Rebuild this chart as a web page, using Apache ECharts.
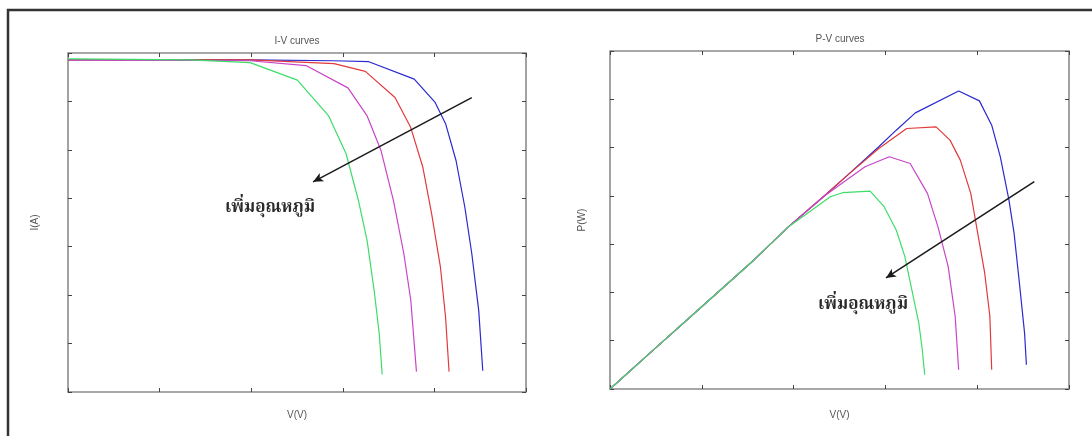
<!DOCTYPE html>
<html>
<head>
<meta charset="utf-8">
<title>I-V / P-V curves</title>
<script src="https://cdn.jsdelivr.net/npm/echarts@6/dist/echarts.min.js"></script>
<style>
  html, body { margin: 0; padding: 0; background: #ffffff; }
  #chart { width: 1092px; height: 436px; }
</style>
</head>
<body>
<div id="chart"></div>
<script>
// Axis ranges (no tick labels are printed, only tick marks)
const vRange = [0, 25, 5];     // V(V): min, max, tick step
const iRange = [0, 3.5, 0.5];  // I(A)
const pRange = [0, 70, 10];    // P(W)

// Panel titles and axis names
const titles = ['I-V curves', 'P-V curves'];
const xName = 'V(V)';
const yNames = ['I(A)', 'P(W)'];
const noteText = 'เพิ่มอุณหภูมิ';

// I-V curves, [V, I], one per temperature (blue = coolest, green = hottest)
const ivBlue = [[0, 3.43], [9.94, 3.43], [14.5, 3.42], [16.42, 3.41], [18.90, 3.23], [20.04, 2.99], [20.61, 2.77],
  [21.18, 2.39], [21.66, 1.91], [22.04, 1.43], [22.42, 0.84], [22.64, 0.22]];
const ivRed = [[0, 3.43], [9.94, 3.43], [14.52, 3.39], [16.23, 3.31], [17.85, 3.04], [18.71, 2.73], [19.37, 2.32],
  [19.85, 1.84], [20.33, 1.29], [20.61, 0.77], [20.80, 0.21]];
const ivMagenta = [[0, 3.43], [9.94, 3.42], [12.99, 3.37], [15.28, 3.14], [16.33, 2.85], [17.09, 2.49], [17.76, 1.98],
  [18.33, 1.43], [18.71, 0.95], [19.02, 0.21]];
const ivGreen = [[0, 3.44], [6.7, 3.43], [9.94, 3.40], [12.52, 3.22], [14.23, 2.85], [15.18, 2.46], [15.85, 1.98],
  [16.33, 1.56], [16.71, 1.05], [16.99, 0.60], [17.15, 0.18]];

// P-V curves, [V, P]
const pvBlue = [[0, 0], [2.17, 7.44], [5.01, 17.09], [7.84, 26.73], [9.73, 33.62], [11.62, 39.82], [12.94, 44.30],
  [14.64, 50.16], [15.59, 53.60], [16.63, 57.19], [18.99, 61.73], [20.12, 59.67], [20.79, 54.64], [21.26, 48.09],
  [21.73, 39.13], [22.01, 32.24], [22.30, 21.91], [22.58, 11.57], [22.68, 5.03]];
const pvRed = [[0, 0], [2.17, 7.44], [5.01, 17.09], [7.84, 26.73], [9.73, 33.62], [11.62, 39.82], [12.94, 44.30],
  [14.64, 49.81], [16.16, 53.95], [17.76, 54.29], [18.52, 51.54], [19.08, 47.40], [19.65, 40.51], [20.03, 32.24],
  [20.41, 23.98], [20.69, 15.02], [20.79, 3.99]];
const pvMagenta = [[0, 0], [2.17, 7.44], [5.01, 17.09], [7.84, 26.73], [9.73, 33.62], [11.62, 39.82], [12.75, 42.92],
  [13.89, 46.02], [15.21, 48.09], [16.35, 46.71], [17.29, 40.51], [17.86, 33.62], [18.42, 25.35], [18.80, 15.02],
  [18.99, 4.00]];
const pvGreen = [[0, 0], [2.17, 7.44], [5.01, 17.09], [7.84, 26.73], [9.73, 33.62], [10.87, 36.72], [12.00, 39.82],
  [12.66, 40.65], [14.17, 40.99], [14.93, 37.76], [15.59, 32.93], [16.06, 27.42], [16.44, 20.53], [16.82, 13.64],
  [17.01, 8.13], [17.14, 2.96]];

// "increasing temperature" arrows (tail, head) and note anchors, in data units
const ivArrow = [[22.04, 3.04], [13.38, 2.17]];
const ivNote = [11.03, 1.89];
const pvArrow = [[23.11, 42.97], [15.03, 22.99]];
const pvNote = [13.78, 17.19];

const colors = { blue: '#2a2ad0', red: '#e23a3a', magenta: '#c845c8', green: '#3ddd6a' };
const axisGray = '#8c8c8c';
const textGray = '#555555';
const thaiFont = '"Noto Serif Thai", "Noto Sans Thai", "TH Sarabun New", Garuda, Loma, serif';

const chart = echarts.init(document.getElementById('chart'), null, { renderer: 'canvas' });

function tickAxis(range, position, gridIndex, name, nameGap) {
  return {
    type: 'value', gridIndex, position,
    min: range[0], max: range[1], interval: range[2],
    axisLine: { show: false, onZero: false },
    axisTick: { show: true, inside: true, length: 4, lineStyle: { color: '#444', width: 1 } },
    axisLabel: { show: false },
    splitLine: { show: false },
    name: name || '',
    nameLocation: 'middle',
    nameGap: nameGap || 0,
    nameTextStyle: { color: textGray, fontSize: 10, fontFamily: 'Liberation Sans, Arial, sans-serif' }
  };
}

function curve(data, color, xi, yi, extra) {
  return Object.assign({
    type: 'line', data, xAxisIndex: xi, yAxisIndex: yi,
    showSymbol: false, smooth: false, silent: true, animation: false,
    lineStyle: { color, width: 1.2 }
  }, extra || {});
}

function arrow(pair) {
  return {
    silent: true, animation: false,
    symbol: ['none', 'arrow'], symbolSize: [7, 10],
    label: { show: false },
    lineStyle: { color: '#1a1a1a', width: 1.5, type: 'solid' },
    data: [[{ coord: pair[0] }, { coord: pair[1] }]]
  };
}

function note(pos) {
  return {
    silent: true, animation: false,
    symbol: 'rect', symbolSize: 1, itemStyle: { color: 'rgba(0,0,0,0)' },
    label: {
      show: true, position: 'inside', formatter: noteText,
      color: '#2a2a2a', fontSize: 17, fontWeight: 'bold', fontFamily: thaiFont
    },
    data: [{ coord: pos }]
  };
}

const option = {
  animation: false,
  backgroundColor: '#ffffff',
  title: [
    { text: titles[0], left: 297, top: 36, textAlign: 'center', padding: 0,
      textStyle: { color: textGray, fontSize: 10, fontWeight: 'normal', fontFamily: 'Liberation Sans, Arial, sans-serif' } },
    { text: titles[1], left: 840, top: 34, textAlign: 'center', padding: 0,
      textStyle: { color: textGray, fontSize: 10, fontWeight: 'normal', fontFamily: 'Liberation Sans, Arial, sans-serif' } }
  ],
  grid: [
    { left: 68, top: 53, width: 458, height: 339, show: true, borderColor: axisGray, borderWidth: 1.6, backgroundColor: 'transparent' },
    { left: 610, top: 51, width: 459, height: 338, show: true, borderColor: axisGray, borderWidth: 1.6, backgroundColor: 'transparent' }
  ],
  xAxis: [
    tickAxis(vRange, 'bottom', 0, xName, 18),
    tickAxis(vRange, 'top', 0),
    tickAxis(vRange, 'bottom', 1, xName, 21),
    tickAxis(vRange, 'top', 1)
  ],
  yAxis: [
    tickAxis(iRange, 'left', 0, yNames[0], 28),
    tickAxis(iRange, 'right', 0),
    tickAxis(pRange, 'left', 1, yNames[1], 23),
    tickAxis(pRange, 'right', 1)
  ],
  series: [
    curve(ivBlue, colors.blue, 0, 0),
    curve(ivRed, colors.red, 0, 0),
    curve(ivMagenta, colors.magenta, 0, 0),
    curve(ivGreen, colors.green, 0, 0, { markLine: arrow(ivArrow), markPoint: note(ivNote) }),
    curve(pvBlue, colors.blue, 2, 2),
    curve(pvRed, colors.red, 2, 2),
    curve(pvMagenta, colors.magenta, 2, 2),
    curve(pvGreen, colors.green, 2, 2, { markLine: arrow(pvArrow), markPoint: note(pvNote) })
  ],
  graphic: [
    // outer frame around both panels (right and bottom edges run past the canvas)
    { type: 'rect', silent: true, shape: { x: 8, y: 10, width: 1090, height: 440 },
      style: { fill: 'none', stroke: '#333333', lineWidth: 2.5 } }
  ]
};

chart.setOption(option);
</script>
</body>
</html>
